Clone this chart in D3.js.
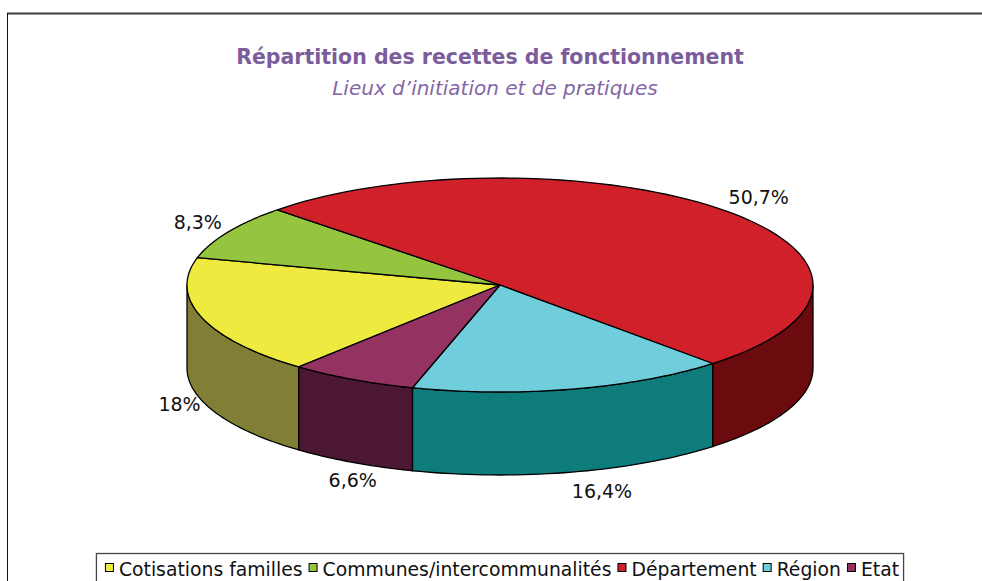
<!DOCTYPE html>
<html>
<head>
<meta charset="utf-8">
<script src="https://cdn.jsdelivr.net/npm/d3@7"></script>
<style>
  body { margin: 0; background: #fff; }
  svg { display: block; }
</style>
</head>
<body>
<svg id="chart" width="982" height="581"></svg>
<script>
// Revenue breakdown (percent of total)
const categories = ["Cotisations familles", "Communes/intercommunalités", "Département", "Région", "Etat"];
const values = [18, 8.3, 50.7, 16.4, 6.6];
const topColors = ["#efea40", "#95c43e", "#d0202a", "#70cddb", "#943262"];
const sideColors = ["#807f35", "#4f6a20", "#6b0b0d", "#0e7c7b", "#4b1733"];
const titleText = "Répartition des recettes de fonctionnement";
const subtitleText = "Lieux d’initiation et de pratiques";

const svg = d3.select("#chart");
const W = 982, H = 581;
const FONT = "DejaVu Sans, Verdana, sans-serif";

// Frame lines
svg.append("line").attr("x1", 7).attr("x2", W).attr("y1", 13.5).attr("y2", 13.5)
  .attr("stroke", "#3c3c3c").attr("stroke-width", 2);
svg.append("line").attr("x1", 7.5).attr("x2", 7.5).attr("y1", 13).attr("y2", H)
  .attr("stroke", "#111").attr("stroke-width", 1);

// Titles
svg.append("text").attr("x", 490).attr("y", 64).attr("text-anchor", "middle")
  .attr("font-family", FONT).attr("font-weight", "bold")
  .attr("font-size", 20.5).attr("fill", "#7c5d9c").text(titleText);
svg.append("text").attr("x", 495).attr("y", 95).attr("text-anchor", "middle")
  .attr("font-family", FONT).attr("font-style", "italic")
  .attr("font-size", 20).attr("fill", "#8466a6").text(subtitleText);

// 3D pie geometry
const cx = 500, cy = 285, rx = 313, ry = 107, depth = 83;
const start = 220 * Math.PI / 180;
const pie = d3.pie().sort(null).value(d => d).startAngle(start).endAngle(start + 2 * Math.PI);
const arcs = pie(values);

const px = a => cx + rx * Math.sin(a);
const py = a => cy - ry * Math.cos(a);

const g = svg.append("g").attr("stroke", "#000").attr("stroke-width", 1.3)
  .attr("stroke-linejoin", "round");

// Outer walls: only the front half (angles between 90° and 270°) is visible
const TAU = 2 * Math.PI;
arcs.forEach((d, i) => {
  for (let k = 0; k < 2; k++) {
    const lo = Math.max(d.startAngle, Math.PI / 2 + k * TAU);
    const hi = Math.min(d.endAngle, 3 * Math.PI / 2 + k * TAU);
    if (hi <= lo) continue;
    const p = d3.path();
    p.moveTo(px(lo), py(lo));
    const steps = 40;
    for (let s = 1; s <= steps; s++) {
      const a = lo + (hi - lo) * s / steps;
      p.lineTo(px(a), py(a));
    }
    for (let s = steps; s >= 0; s--) {
      const a = lo + (hi - lo) * s / steps;
      p.lineTo(px(a), py(a) + depth);
    }
    p.closePath();
    g.append("path").attr("d", p.toString()).attr("fill", sideColors[i]);
  }
});

// Top faces
arcs.forEach((d, i) => {
  const p = d3.path();
  p.moveTo(cx, cy);
  const steps = 80;
  for (let s = 0; s <= steps; s++) {
    const a = d.startAngle + (d.endAngle - d.startAngle) * s / steps;
    p.lineTo(px(a), py(a));
  }
  p.closePath();
  g.append("path").attr("d", p.toString()).attr("fill", topColors[i]);
});

// Value labels, placed just outside the rim (front ones drop below the wall;
// the viewpoint's perspective pushes the near side slightly to the right)
const fmt = v => String(v).replace(".", ",") + "%";
const labelG = svg.append("g").attr("font-family", FONT)
  .attr("font-size", 19).attr("fill", "#111");
arcs.forEach((d, i) => {
  const m = (d.startAngle + d.endAngle) / 2;
  const s = Math.sin(m), c = Math.cos(m);
  const front = c < 0;
  const ax = cx + (rx + 15) * s + 9 - 11 * c;
  const ay = cy - (ry + (front ? 15 : 11)) * c + (front ? depth - 4 : 0);
  const t = labelG.append("text").attr("text-anchor", "middle")
    .attr("dominant-baseline", "central").text(fmt(values[i]));
  const w = t.node().getComputedTextLength();
  t.attr("x", ax + s * (w / 2)).attr("y", ay - c * 9);
});

// Legend
const legendWidth = 811;
const lg = svg.append("g").attr("font-family", FONT).attr("fill", "#111");
const measure = size => {
  lg.attr("font-size", size);
  let x = 0;
  const pos = [];
  categories.forEach(name => {
    const t = lg.append("text").text(name);
    const w = t.node().getComputedTextLength();
    t.remove();
    pos.push(x);
    x += 14 + w + 6;
  });
  return { total: x - 6, pos };
};
let fs = 16;
fs = fs * legendWidth / measure(fs).total;
const lay = measure(fs);
categories.forEach((name, i) => {
  const it = lg.append("g").attr("transform", `translate(${lay.pos[i]},0)`);
  it.append("rect").attr("x", 0.5).attr("y", -4.5).attr("width", 8).attr("height", 8)
    .attr("fill", topColors[i]).attr("stroke", "#000").attr("stroke-width", 1);
  it.append("text").attr("x", 14).attr("y", 1).attr("dominant-baseline", "central").text(name);
});
const lx = 502 - lay.total / 2;
lg.attr("transform", `translate(${lx},568)`);
svg.insert("rect", "g").attr("x", lx - 8.5).attr("y", 553.5).attr("width", lay.total + 13).attr("height", 40)
  .attr("fill", "#fff").attr("stroke", "#444").attr("stroke-width", 1.3);
</script>
</body>
</html>
